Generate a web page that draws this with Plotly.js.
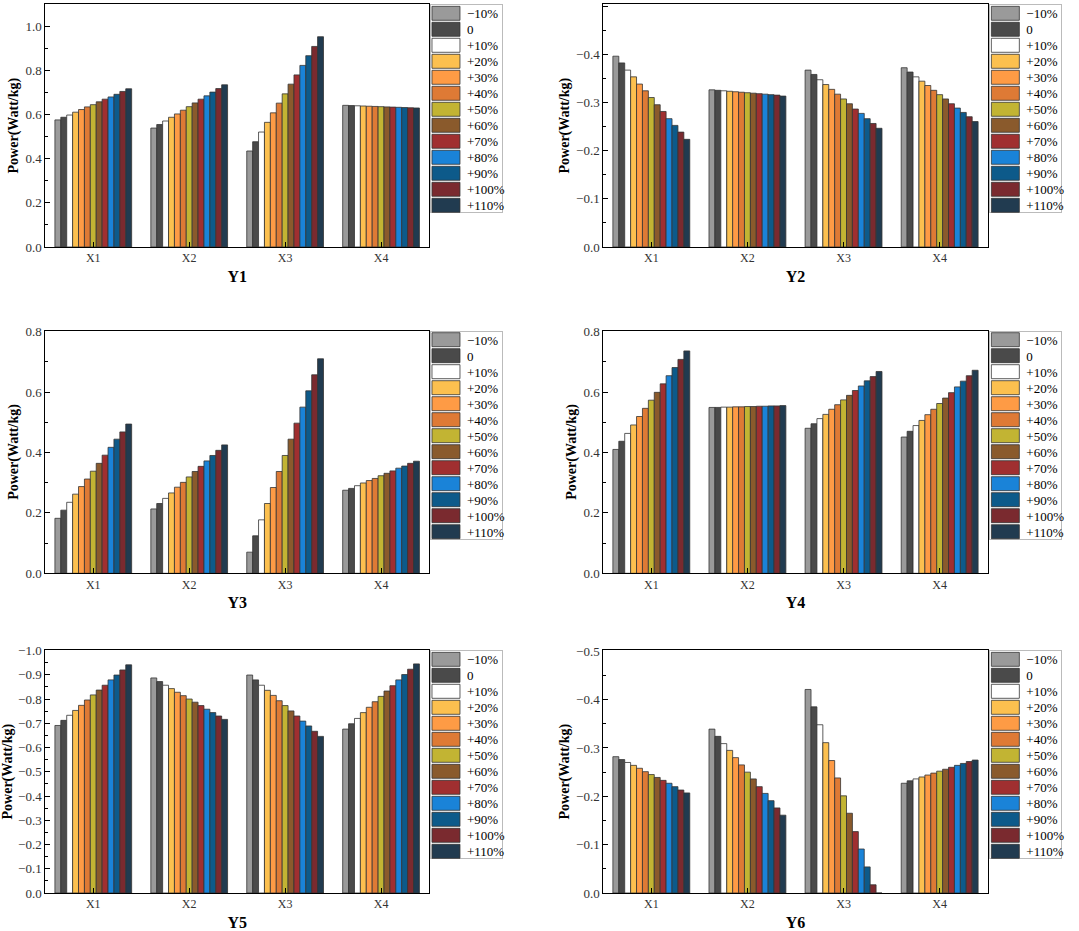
<!DOCTYPE html>
<html>
<head>
<meta charset="utf-8">
<script src="https://cdn.plot.ly/plotly-3.0.1.min.js"></script>
<style>
    html, body { margin: 0; padding: 0; background: #fff; }
    #chart { width: 1079px; height: 931px; }
</style>
</head>
<body>
<div id="chart"></div>
<script>
var categories = ['X1', 'X2', 'X3', 'X4'];
var levels = ['\u221210%', '0', '+10%', '+20%', '+30%', '+40%', '+50%',
    '+60%', '+70%', '+80%', '+90%', '+100%', '+110%'];
var colors = ['#9a9a9a', '#4a4a4a', '#ffffff', '#fcc04f', '#fe9b45', '#de7a35',
    '#c2b433', '#8a5a2c', '#a02f30', '#1a83d8', '#0d5a8a', '#7a2a2f', '#213b50'];

// one row per category (X1..X4), one value per level
var y1 = [
    [0.576, 0.588, 0.598, 0.611, 0.623, 0.635, 0.645, 0.658, 0.670, 0.680, 0.692, 0.705, 0.717],
    [0.539, 0.555, 0.571, 0.588, 0.603, 0.620, 0.636, 0.653, 0.670, 0.685, 0.702, 0.718, 0.735],
    [0.435, 0.477, 0.521, 0.565, 0.608, 0.652, 0.694, 0.738, 0.780, 0.823, 0.867, 0.909, 0.953],
    [0.642, 0.641, 0.640, 0.639, 0.638, 0.637, 0.636, 0.635, 0.634, 0.633, 0.632, 0.631, 0.630]
];
var y2 = [
    [-0.397, -0.383, -0.368, -0.354, -0.339, -0.325, -0.311, -0.296, -0.282, -0.267, -0.253, -0.239, -0.224],
    [-0.327, -0.326, -0.325, -0.324, -0.323, -0.322, -0.321, -0.320, -0.319, -0.318, -0.317, -0.316, -0.314],
    [-0.368, -0.359, -0.348, -0.338, -0.328, -0.318, -0.308, -0.298, -0.287, -0.278, -0.267, -0.257, -0.247],
    [-0.373, -0.364, -0.354, -0.345, -0.336, -0.326, -0.317, -0.308, -0.298, -0.289, -0.280, -0.271, -0.261]
];
var y3 = [
    [0.182, 0.209, 0.235, 0.262, 0.287, 0.312, 0.338, 0.364, 0.391, 0.417, 0.444, 0.468, 0.494],
    [0.213, 0.231, 0.248, 0.266, 0.285, 0.301, 0.319, 0.337, 0.354, 0.372, 0.390, 0.407, 0.425],
    [0.070, 0.124, 0.177, 0.231, 0.284, 0.337, 0.390, 0.444, 0.497, 0.550, 0.604, 0.657, 0.710],
    [0.275, 0.281, 0.290, 0.299, 0.307, 0.314, 0.323, 0.331, 0.339, 0.348, 0.355, 0.364, 0.371]
];
var y4 = [
    [0.410, 0.437, 0.463, 0.491, 0.519, 0.546, 0.573, 0.599, 0.627, 0.654, 0.681, 0.708, 0.736],
    [0.549, 0.549, 0.550, 0.550, 0.551, 0.551, 0.552, 0.552, 0.553, 0.553, 0.554, 0.554, 0.555],
    [0.480, 0.495, 0.512, 0.526, 0.543, 0.558, 0.574, 0.589, 0.605, 0.620, 0.637, 0.651, 0.668],
    [0.451, 0.470, 0.489, 0.506, 0.525, 0.543, 0.562, 0.580, 0.598, 0.617, 0.636, 0.654, 0.672]
];
var y5 = [
    [-0.691, -0.712, -0.733, -0.753, -0.774, -0.796, -0.817, -0.837, -0.857, -0.879, -0.899, -0.920, -0.941],
    [-0.887, -0.872, -0.857, -0.843, -0.828, -0.814, -0.800, -0.787, -0.773, -0.758, -0.744, -0.730, -0.716],
    [-0.899, -0.879, -0.857, -0.836, -0.815, -0.793, -0.773, -0.751, -0.730, -0.709, -0.689, -0.667, -0.646],
    [-0.676, -0.698, -0.720, -0.744, -0.766, -0.789, -0.811, -0.833, -0.855, -0.879, -0.901, -0.923, -0.945]
];
var y6 = [
    [-0.282, -0.276, -0.270, -0.264, -0.258, -0.251, -0.245, -0.239, -0.233, -0.227, -0.220, -0.213, -0.207],
    [-0.339, -0.324, -0.309, -0.295, -0.280, -0.265, -0.250, -0.236, -0.220, -0.206, -0.191, -0.176, -0.161],
    [-0.421, -0.385, -0.348, -0.311, -0.274, -0.238, -0.201, -0.165, -0.127, -0.091, -0.054, -0.017, 0],
    [-0.227, -0.232, -0.236, -0.240, -0.244, -0.248, -0.252, -0.256, -0.260, -0.264, -0.268, -0.272, -0.275]
];

var panels = [
    {name: 'Y1', values: y1, range: [0, 1.1], dtick: 0.2},
    {name: 'Y2', values: y2, range: [0, -0.505], dtick: 0.1},
    {name: 'Y3', values: y3, range: [0, 0.803], dtick: 0.2},
    {name: 'Y4', values: y4, range: [0, 0.803], dtick: 0.2},
    {name: 'Y5', values: y5, range: [0, -1.001], dtick: 0.1},
    {name: 'Y6', values: y6, range: [0, -0.502], dtick: 0.1}
];

var colX = [[0.0420, 0.3976], [0.5591, 0.9154]];
var rowY = [[0.7347, 0.9954], [0.3842, 0.6448], [0.0408, 0.3015]];
var legendX = [0.3985, 0.9169];

var serif = 'Liberation Serif';
var traces = [];
var layout = {
    width: 1079,
    height: 931,
    margin: {l: 0, r: 0, t: 0, b: 0, autoexpand: false},
    paper_bgcolor: '#fff',
    plot_bgcolor: '#fff',
    font: {family: serif, color: '#000'},
    barmode: 'group',
    bargap: 0.2,
    bargroupgap: 0
};

panels.forEach(function (p, k) {
    var n = k + 1;
    var sfx = n > 1 ? String(n) : '';
    var col = k % 2, row = Math.floor(k / 2);
    var legendId = 'legend' + sfx;

    levels.forEach(function (lv, s) {
        traces.push({
            type: 'bar',
            name: lv,
            x: categories,
            y: p.values.map(function (r) { return r[s]; }),
            xaxis: 'x' + sfx,
            yaxis: 'y' + sfx,
            legend: legendId,
            marker: {color: colors[s], line: {color: '#333', width: 0.8}},
            hoverinfo: 'skip'
        });
    });

    layout['xaxis' + sfx] = {
        domain: colX[col],
        anchor: 'y' + sfx,
        showline: true, mirror: true, linecolor: '#000', linewidth: 1,
        ticks: 'inside', ticklen: 5, tickcolor: '#000',
        tickfont: {family: serif, size: 12, color: '#333'},
        showgrid: false,
        title: {text: '<b>' + p.name + '</b>', font: {family: serif, size: 16}, standoff: 6}
    };
    layout['yaxis' + sfx] = {
        domain: rowY[row],
        anchor: 'x' + sfx,
        range: p.range,
        dtick: p.dtick, tick0: 0,
        tickformat: '.1f',
        showline: true, mirror: true, linecolor: '#000', linewidth: 1,
        ticks: 'inside', ticklen: 5, tickcolor: '#000',
        minor: {ticks: 'inside', ticklen: 3, dtick: p.dtick / 2, tickcolor: '#000'},
        tickfont: {family: serif, size: 13, color: '#333'},
        showgrid: false, zeroline: false,
        title: {text: '<b>Power(Watt/kg)</b>', font: {family: serif, size: 14}, standoff: 3}
    };
    layout[legendId] = {
        x: legendX[col], xanchor: 'left',
        y: rowY[row][1], yanchor: 'top',
        bgcolor: '#fff', bordercolor: '#bbb', borderwidth: 1,
        font: {family: serif, size: 13, color: '#000'},
        tracegroupgap: 0
    };
});

// Plotly's legend rows are taller than the reference; pack them to 16px
// and widen the swatches like the original legend.
var ROW_H = 16;
function packLegends(gd) {
    gd.querySelectorAll('.infolayer > g').forEach(function (box) {
        var items = box.querySelectorAll('g.traces');
        var bg = box.querySelector('rect.bg');
        if (!items.length || !bg) return;
        items.forEach(function (item, i) {
            item.setAttribute('transform', 'translate(-3,' + (9 + ROW_H * i) + ')');
            var sw = item.querySelector('path.legendbar') || item.querySelector('.legendpoints path');
            if (sw) sw.setAttribute('d', 'M-15,-7H13V7H-15Z');
        });
        bg.setAttribute('height', ROW_H * items.length);
        bg.setAttribute('width', 72);
    });
}

var gd = document.getElementById('chart');
Plotly.newPlot(gd, traces, layout, {staticPlot: true}).then(packLegends);
</script>
</body>
</html>
